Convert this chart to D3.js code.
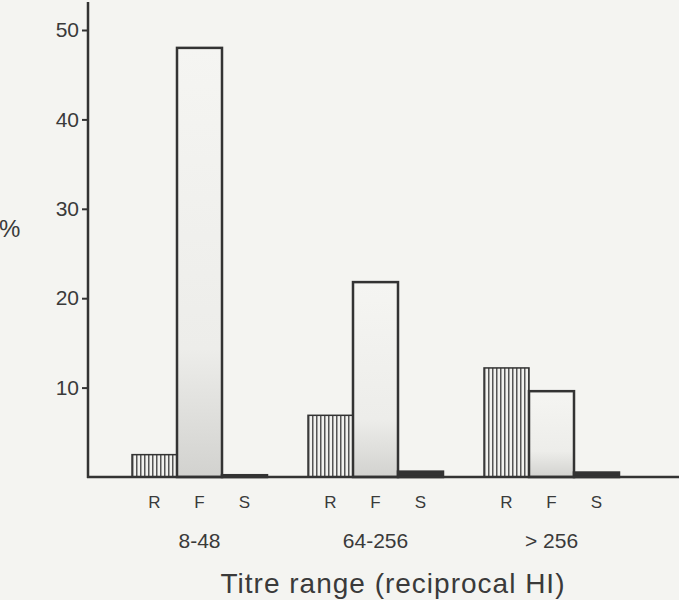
<!DOCTYPE html>
<html>
<head>
<meta charset="utf-8">
<script src="https://cdn.jsdelivr.net/npm/d3@7"></script>
<style>
body { margin: 0; background: #f4f4f1; }
text { font-family: "Liberation Sans", Arial, sans-serif; fill: #3a3a3a; }
</style>
</head>
<body>
<div id="chart"></div>
<script>
var groups = ["8-48", "64-256", "> 256"];
var series = ["R", "F", "S"];
var valuesR = [2.5, 6.9, 12.2];
var valuesF = [48.0, 21.8, 9.6];
var valuesS = [0.2, 0.6, 0.5];
var yTicks = [10, 20, 30, 40, 50];

var width = 679, height = 600;
var svg = d3.select("#chart").append("svg")
    .attr("width", width)
    .attr("height", height)

svg.append("rect").attr("width", width).attr("height", height).attr("fill", "#f4f4f1")

var defs = svg.append("defs")
var pat = defs.append("pattern")
    .attr("id", "stripes")
    .attr("patternUnits", "userSpaceOnUse")
    .attr("width", 4).attr("height", 10)
pat.append("rect").attr("width", 4).attr("height", 10).attr("fill", "#f2f2ef")
pat.append("rect").attr("x", 0).attr("width", 1.5).attr("height", 10).attr("fill", "#555")

var grad = defs.append("linearGradient")
    .attr("id", "fgrad").attr("x1", 0).attr("y1", 0).attr("x2", 0).attr("y2", 1)
grad.append("stop").attr("offset", "0%").attr("stop-color", "#f5f5f2")
grad.append("stop").attr("offset", "70%").attr("stop-color", "#ededea")
grad.append("stop").attr("offset", "100%").attr("stop-color", "#d2d2cf")

var x0 = 88, y0 = 477;
var y = d3.scaleLinear().domain([0, 50]).range([y0, 30])
var xg = d3.scaleBand().domain(groups).range([110, 641]).paddingInner(0.233).paddingOuter(0.125)
var xs = d3.scaleBand().domain(series).range([0, xg.bandwidth()])

var data = [];
groups.forEach(function(g, i) {
    data.push({g: g, s: "R", v: valuesR[i]})
    data.push({g: g, s: "F", v: valuesF[i]})
    data.push({g: g, s: "S", v: valuesS[i]})
})

var fills = {R: "url(#stripes)", F: "url(#fgrad)", S: "#333"};

svg.selectAll(".bar")
    .data(data)
    .enter()
    .append("rect")
    .attr("class", "bar")
    .attr("x", function(d) { return xg(d.g) + xs(d.s) })
    .attr("y", function(d) { return y(d.v) })
    .attr("width", xs.bandwidth())
    .attr("height", function(d) { return y0 - y(d.v) })
    .attr("fill", function(d) { return fills[d.s] })
    .attr("stroke", "#333")
    .attr("stroke-width", function(d) { return d.s == "R" ? 1.5 : 2.5 })

// y axis
var yAxis = svg.append("g")
    .attr("transform", "translate(" + x0 + ",0)")
    .call(d3.axisLeft(y).tickValues(yTicks).tickSize(6).tickPadding(3))
yAxis.select(".domain").remove()
yAxis.attr("font-size", null).attr("font-family", null)
yAxis.selectAll(".tick line").attr("stroke", "#333").attr("stroke-width", 2)
yAxis.selectAll(".tick text")
    .style("font-size", "21px").attr("fill", "#3a3a3a")

svg.append("line")
    .attr("x1", x0).attr("x2", x0).attr("y1", 2).attr("y2", y0 + 1)
    .attr("stroke", "#333").attr("stroke-width", 2.5)
svg.append("line")
    .attr("x1", x0 - 1).attr("x2", width).attr("y1", y0).attr("y2", y0)
    .attr("stroke", "#333").attr("stroke-width", 2.5)

// series labels
svg.selectAll(".slab")
    .data(data)
    .enter()
    .append("text")
    .attr("x", function(d) { return xg(d.g) + xs(d.s) + xs.bandwidth() / 2 })
    .attr("y", 508)
    .attr("text-anchor", "middle")
    .style("font-size", "17px")
    .text(function(d) { return d.s })

svg.selectAll(".glab")
    .data(groups)
    .enter()
    .append("text")
    .attr("x", function(d) { return xg(d) + xg.bandwidth() / 2 })
    .attr("y", 548)
    .attr("text-anchor", "middle")
    .style("font-size", "21px")
    .text(function(d) { return d })

svg.append("text")
    .attr("x", 393).attr("y", 593)
    .attr("text-anchor", "middle")
    .style("font-size", "28px")
    .style("letter-spacing", "1px")
    .text("Titre range (reciprocal HI)")

svg.append("text")
    .attr("x", -1).attr("y", 237)
    .style("font-size", "24px")
    .text("%")
</script>
</body>
</html>
